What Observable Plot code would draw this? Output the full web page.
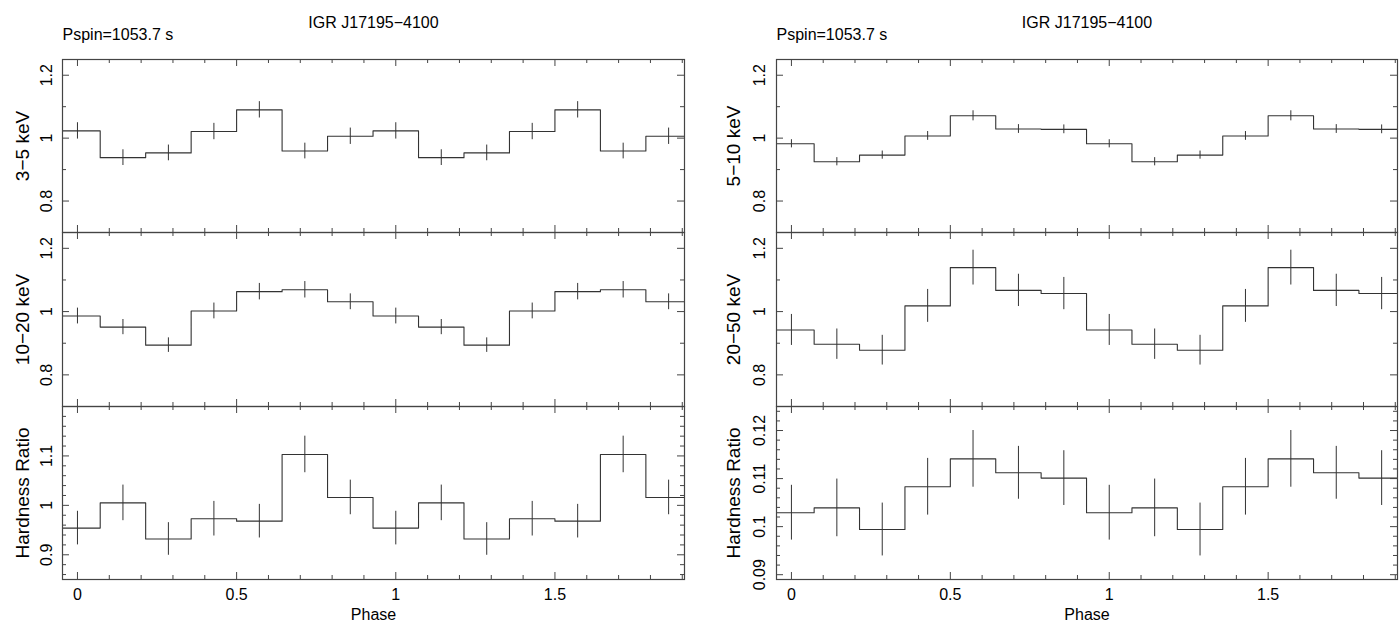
<!DOCTYPE html>
<html><head><meta charset="utf-8">
<script src="https://cdn.jsdelivr.net/npm/d3@7"></script>
<script src="https://cdn.jsdelivr.net/npm/@observablehq/plot@0.6"></script>
<style>
body{margin:0;background:#fff;overflow:hidden}
#chart{position:relative;width:1400px;height:624px;background:#fff}
#chart svg{position:absolute;overflow:visible}
</style></head><body><div id="chart"></div>
<script>
// ---- data (one pulse cycle, 7 phase bins, plotted twice) ----
const phase = [0, 0.1429, 0.2857, 0.4286, 0.5714, 0.7143, 0.8571];
const binWidth = 0.1429;
const cycles = [0, 1];

const rate3to5   = [1.023, 0.938, 0.953, 1.021, 1.090, 0.959, 1.006];
const err3to5    = [0.026, 0.025, 0.025, 0.026, 0.026, 0.025, 0.026];
const rate10to20 = [0.986, 0.951, 0.894, 1.002, 1.063, 1.069, 1.031];
const err10to20  = [0.025, 0.024, 0.023, 0.025, 0.026, 0.026, 0.025];
const hrLeft     = [0.954, 1.005, 0.932, 0.973, 0.968, 1.103, 1.016];
const errHrLeft  = [0.034, 0.036, 0.033, 0.035, 0.034, 0.037, 0.035];

const rate5to10  = [0.982, 0.925, 0.946, 1.007, 1.071, 1.029, 1.028];
const err5to10   = [0.013, 0.013, 0.013, 0.014, 0.016, 0.014, 0.014];
const rate20to50 = [0.942, 0.897, 0.878, 1.018, 1.139, 1.067, 1.057];
const err20to50  = [0.049, 0.048, 0.047, 0.052, 0.055, 0.051, 0.051];
const hrRight    = [0.1029, 0.1039, 0.0994, 0.1083, 0.1141, 0.1112, 0.1101];
const errHrRight = [0.0057, 0.0060, 0.0055, 0.0059, 0.0059, 0.0055, 0.0057];

const titleText = "IGR J17195−4100";
const periodText = "Pspin=1053.7 s";
const xLabel = "Phase";
const xDomain = [-0.047, 1.907];
const xMajorTicks = [0, 0.5, 1, 1.5];
const xMajorLabels = ["0", "0.5", "1", "1.5"];
const xMinorTicks = [0.1, 0.2, 0.3, 0.4, 0.6, 0.7, 0.8, 0.9, 1.1, 1.2, 1.3, 1.4, 1.6, 1.7, 1.8, 1.9];

const rateDomain = [0.7, 1.25];
const rateMajor = [0.8, 1, 1.2];
const rateMajorLabels = ["0.8", "1", "1.2"];
const rateMinor = [0.9, 1.1];

const hrLeftDomain = [0.85, 1.2];
const hrLeftMajor = [0.9, 1, 1.1];
const hrLeftMajorLabels = ["0.9", "1", "1.1"];
const hrLeftMinor = [0.86, 0.88, 0.92, 0.94, 0.96, 0.98, 1.02, 1.04, 1.06, 1.08, 1.12, 1.14, 1.16, 1.18];

const hrRightDomain = [0.089, 0.125];
const hrRightMajor = [0.09, 0.1, 0.11, 0.12];
const hrRightMajorLabels = ["0.09", "0.1", "0.11", "0.12"];
const hrRightMinor = [0.092, 0.094, 0.096, 0.098, 0.102, 0.104, 0.106, 0.108, 0.112, 0.114, 0.116, 0.118, 0.122, 0.124];

// ---- layout ----
const FONT = "'Liberation Sans', Arial, Helvetica, sans-serif";
const INK = "#333";
const FRAME = "#444";
const columns = [
  {left: 0,   mL: 62, mR: 16, labelDx: -40, tickDx: -16},
  {left: 700, mL: 76, mR: 3,  labelDx: -43, tickDx: -17}
];
const rows = [
  {top: 0,   mT: 59, mB: 5,  plotH: 173},
  {top: 227, mT: 5,  mB: 5,  plotH: 174},
  {top: 401, mT: 5,  mB: 45, plotH: 173}
];

function buildRows(values, errors) {
  const out = [];
  for (const c of cycles) values.forEach((v, i) => out.push({phase: phase[i] + c, v, e: errors[i]}));
  return out;
}

function panel(col, row, cfg) {
  const pts = buildRows(cfg.values, cfg.errors);
  const steps = pts.map(d => ({x: d.phase - binWidth / 2, y: d.v}));
  const last = pts[pts.length - 1];
  steps.push({x: last.phase + binWidth / 2, y: last.v});
  const width = 700;
  const height = row.mT + row.plotH + row.mB;
  const W = width - col.mL - col.mR, H = row.plotH;
  const marks = [
    Plot.line(steps, {x: "x", y: "y", curve: "step-after", stroke: INK, strokeWidth: 1.1, clip: true}),
    Plot.ruleX(pts, {x: "phase", y1: d => d.v - d.e, y2: d => d.v + d.e, stroke: INK, strokeWidth: 1, clip: true}),
    Plot.frame({stroke: FRAME, strokeWidth: 1.2}),
    // x ticks, inward, top & bottom
    Plot.tickX(xMajorTicks, {x: d => d, insetBottom: H - 7, stroke: FRAME}),
    Plot.tickX(xMajorTicks, {x: d => d, insetTop: H - 7, stroke: FRAME}),
    Plot.tickX(xMinorTicks, {x: d => d, insetBottom: H - 4, stroke: FRAME}),
    Plot.tickX(xMinorTicks, {x: d => d, insetTop: H - 4, stroke: FRAME}),
    // y ticks, inward, left & right
    Plot.tickY(cfg.major, {y: d => d, insetRight: W - 7, stroke: FRAME}),
    Plot.tickY(cfg.major, {y: d => d, insetLeft: W - 7, stroke: FRAME}),
    Plot.tickY(cfg.minor, {y: d => d, insetRight: W - 4, stroke: FRAME}),
    Plot.tickY(cfg.minor, {y: d => d, insetLeft: W - 4, stroke: FRAME}),
    // rotated y tick labels
    Plot.text(cfg.major, {y: d => d, text: (d, i) => cfg.majorLabels[i], frameAnchor: "left", rotate: -90,
      dx: col.tickDx, lineAnchor: "middle", textAnchor: "middle", fontSize: 16, fill: "#000"}),
    // y axis label
    Plot.text([cfg.label], {text: d => d, frameAnchor: "left", rotate: -90, dx: col.labelDx,
      lineAnchor: "middle", textAnchor: "middle", fontSize: 19, fill: "#000"})
  ];
  if (cfg.header) {
    marks.push(
      Plot.text([titleText], {text: d => d, frameAnchor: "top", dy: -37, lineAnchor: "middle", fontSize: 16, fill: "#000"}),
      Plot.text([periodText], {text: d => d, frameAnchor: "top-left", dy: -25, textAnchor: "start", lineAnchor: "middle", fontSize: 16, fill: "#000"})
    );
  }
  if (cfg.footer) {
    marks.push(
      Plot.text(xMajorTicks, {x: d => d, text: (d, i) => xMajorLabels[i], frameAnchor: "bottom", dy: 15, lineAnchor: "middle", fontSize: 16, fill: "#000"}),
      Plot.text([xLabel], {text: d => d, frameAnchor: "bottom", dy: 35, lineAnchor: "middle", fontSize: 16, fill: "#000"})
    );
  }
  const svg = Plot.plot({
    width, height,
    marginLeft: col.mL, marginRight: col.mR, marginTop: row.mT, marginBottom: row.mB,
    x: {domain: xDomain, axis: null},
    y: {domain: cfg.domain, axis: null},
    style: {fontFamily: FONT, background: "none", overflow: "visible", color: "#000"},
    marks
  });
  svg.style.left = col.left + "px";
  svg.style.top = row.top + "px";
  document.getElementById("chart").appendChild(svg);
}

const leftPanels = [
  {values: rate3to5, errors: err3to5, domain: rateDomain, major: rateMajor, majorLabels: rateMajorLabels, minor: rateMinor, label: "3−5 keV", header: true},
  {values: rate10to20, errors: err10to20, domain: rateDomain, major: rateMajor, majorLabels: rateMajorLabels, minor: rateMinor, label: "10−20 keV"},
  {values: hrLeft, errors: errHrLeft, domain: hrLeftDomain, major: hrLeftMajor, majorLabels: hrLeftMajorLabels, minor: hrLeftMinor, label: "Hardness Ratio", footer: true}
];
const rightPanels = [
  {values: rate5to10, errors: err5to10, domain: rateDomain, major: rateMajor, majorLabels: rateMajorLabels, minor: rateMinor, label: "5−10 keV", header: true},
  {values: rate20to50, errors: err20to50, domain: rateDomain, major: rateMajor, majorLabels: rateMajorLabels, minor: rateMinor, label: "20−50 keV"},
  {values: hrRight, errors: errHrRight, domain: hrRightDomain, major: hrRightMajor, majorLabels: hrRightMajorLabels, minor: hrRightMinor, label: "Hardness Ratio", footer: true}
];
leftPanels.forEach((p, i) => panel(columns[0], rows[i], p));
rightPanels.forEach((p, i) => panel(columns[1], rows[i], p));
</script></body></html>
